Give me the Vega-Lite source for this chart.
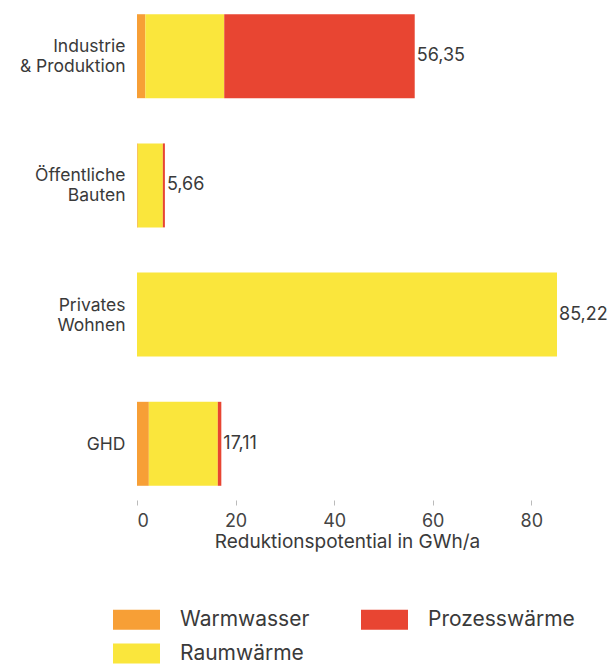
{
  "$schema": "https://vega.github.io/schema/vega-lite/v6.json",
  "width": 420,
  "height": 500,
  "padding": {"top": 0, "left": 5, "right": 5, "bottom": 5},
  "background": "white",
  "data": {
    "values": [
      {"Sektor": "Industrie|& Produktion", "Art": "Warmwasser", "Wert": 1.7},
      {"Sektor": "Industrie|& Produktion", "Art": "Raumwärme", "Wert": 16.0},
      {"Sektor": "Industrie|& Produktion", "Art": "Prozesswärme", "Wert": 38.65},
      {"Sektor": "Öffentliche|Bauten", "Art": "Warmwasser", "Wert": 0.15},
      {"Sektor": "Öffentliche|Bauten", "Art": "Raumwärme", "Wert": 5.1},
      {"Sektor": "Öffentliche|Bauten", "Art": "Prozesswärme", "Wert": 0.41},
      {"Sektor": "Privates|Wohnen", "Art": "Warmwasser", "Wert": 0},
      {"Sektor": "Privates|Wohnen", "Art": "Raumwärme", "Wert": 85.22},
      {"Sektor": "Privates|Wohnen", "Art": "Prozesswärme", "Wert": 0},
      {"Sektor": "GHD", "Art": "Warmwasser", "Wert": 2.4},
      {"Sektor": "GHD", "Art": "Raumwärme", "Wert": 14.0},
      {"Sektor": "GHD", "Art": "Prozesswärme", "Wert": 0.71}
    ]
  },
  "encoding": {
    "y": {
      "field": "Sektor",
      "type": "nominal",
      "sort": ["Industrie|& Produktion", "Öffentliche|Bauten", "Privates|Wohnen", "GHD"],
      "scale": {"paddingInner": 0.35, "paddingOuter": 0.11},
      "axis": {
        "title": null,
        "domain": false,
        "ticks": false,
        "labelExpr": "split(datum.label, '|')",
        "labelFont": "Inter",
        "labelFontSize": 17.5,
        "labelColor": "#3a3a3a",
        "labelLineHeight": 20,
        "labelPadding": 12,
        "labelOffset": {"condition": {"test": "datum.value == 'GHD'", "value": 1}, "value": -9},
        "minExtent": 132,
        "maxExtent": 132
      }
    }
  },
  "layer": [
    {
      "mark": {"type": "bar"},
      "encoding": {
        "x": {
          "field": "Wert",
          "type": "quantitative",
          "aggregate": "sum",
          "stack": "zero",
          "scale": {"domain": [0, 85.22], "nice": false},
          "axis": {
            "title": "Reduktionspotential in GWh/a",
            "values": [0, 20, 40, 60, 80],
            "grid": false,
            "domain": false,
            "tickColor": "#bbbbbb",
            "tickSize": 5,
            "labelFont": "Inter",
            "labelFontSize": 18,
            "labelColor": "#444444",
            "labelPadding": 7,
            "titleFont": "Inter",
            "titleFontSize": 19,
            "titleFontWeight": "normal",
            "titleColor": "#3a3a3a",
            "titlePadding": 2
          }
        },
        "color": {
          "field": "Art",
          "type": "nominal",
          "scale": {
            "domain": ["Warmwasser", "Prozesswärme", "Raumwärme"],
            "range": ["#F79F36", "#E84532", "#FAE63C"]
          },
          "legend": {
            "title": null,
            "orient": "none",
            "legendX": -24,
            "legendY": 596,
            "direction": "horizontal",
            "columns": 2,
            "columnPadding": 51,
            "rowPadding": -13,
            "symbolType": "M-1,-0.425H1V0.425H-1Z",
            "symbolSize": 2209,
            "symbolStrokeWidth": 0,
            "labelFont": "Inter",
            "labelFontSize": 21,
            "labelColor": "#3a3a3a",
            "labelOffset": 20,
            "labelLimit": 300
          }
        },
        "order": {"field": "Art", "sort": "descending"}
      }
    },
    {
      "transform": [
        {"aggregate": [{"op": "sum", "field": "Wert", "as": "Summe"}], "groupby": ["Sektor"]}
      ],
      "mark": {
        "type": "text",
        "align": "left",
        "baseline": "middle",
        "dx": 2,
        "font": "Inter",
        "fontSize": 18,
        "color": "#3a3a3a"
      },
      "encoding": {
        "x": {"field": "Summe", "type": "quantitative"},
        "text": {"field": "Summe", "type": "quantitative", "format": ",.2f"}
      }
    }
  ],
  "config": {
    "view": {"stroke": null},
    "locale": {
      "number": {"decimal": ",", "thousands": ".", "grouping": [3], "currency": ["", " €"]}
    }
  }
}
